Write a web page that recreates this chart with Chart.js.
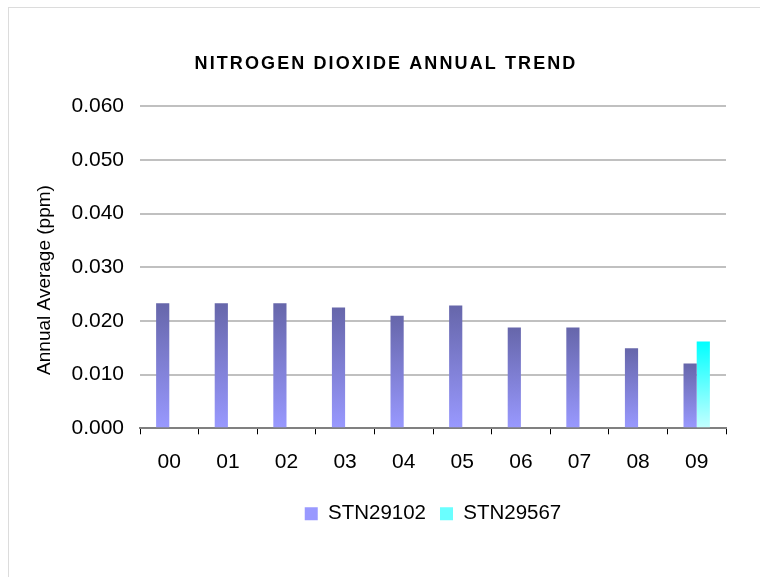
<!DOCTYPE html>
<html>
<head>
<meta charset="utf-8">
<script src="https://cdn.jsdelivr.net/npm/chart.js@4.4.0/dist/chart.umd.min.js"></script>
<style>
  body { margin: 0; background: #fff; }
  #frame { position: absolute; left: 8px; top: 7px; width: 760px; height: 580px; border: 1px solid #dcdcdc; box-sizing: border-box; }
  #wrap { position: absolute; left: 0; top: 0; width: 760px; height: 577px; }
</style>
</head>
<body>
<div id="frame"></div>
<div id="wrap"><canvas id="chart" width="760" height="577"></canvas></div>
<script>
var years = ['00', '01', '02', '03', '04', '05', '06', '07', '08', '09']
var stn29102 = [0.0233, 0.0233, 0.0233, 0.0225, 0.0210, 0.0229, 0.0188, 0.0188, 0.0149, 0.0121]
var stn29567 = [null, null, null, null, null, null, null, null, null, 0.0162]
var yTicks = [0, 0.01, 0.02, 0.03, 0.04, 0.05, 0.06]
var titleText = 'NITROGEN DIOXIDE ANNUAL TREND'
var yTitleText = 'Annual Average (ppm)'

// each bar gets its own top-to-bottom gradient
function barFill(c, top, bottom, flat) {
    var chart = c.chart
    var area = chart.chartArea
    if (!area || c.type !== 'data' || c.raw == null) return flat
    var y0 = chart.scales.y.getPixelForValue(c.raw)
    var g = chart.ctx.createLinearGradient(0, y0, 0, area.bottom)
    g.addColorStop(0, top)
    g.addColorStop(1, bottom)
    return g
}

var font = "'Liberation Sans', Arial, sans-serif"

// title and y title drawn by hand (letter spacing, off-centre placement)
var handTitles = {
    id: 'handTitles',
    afterDraw: function (chart) {
        var t = chart.titleBlock
        var ctx = chart.ctx
        ctx.save()
        ctx.font = 'bold 18px ' + font
        ctx.letterSpacing = '2.1px'
        ctx.fillStyle = '#000'
        ctx.textAlign = 'center'
        ctx.textBaseline = 'middle'
        ctx.fillText(titleText, 386, t.top + 10)
        ctx.restore()

        ctx.save()
        ctx.font = '19px ' + font
        ctx.fillStyle = '#000'
        ctx.textAlign = 'center'
        ctx.textBaseline = 'middle'
        ctx.translate(45, 280)
        ctx.rotate(-Math.PI / 2)
        ctx.fillText(yTitleText, 0, 0)
        ctx.restore()
    }
}

new Chart(document.getElementById('chart').getContext('2d'), {
    type: 'bar',
    data: {
        labels: years,
        datasets: [{
            label: 'STN29102',
            data: stn29102,
            backgroundColor: function (c) { return barFill(c, '#6666aa', '#9999ff', '#8585d8') },
            borderWidth: 0
        }, {
            label: 'STN29567',
            data: stn29567,
            backgroundColor: function (c) { return barFill(c, '#00ffff', '#c4ffff', '#6affff') },
            borderWidth: 0
        }]
    },
    options: {
        responsive: false,
        animation: false,
        layout: { padding: { left: 30, right: 34, top: 54, bottom: 43 } },
        datasets: { bar: { categoryPercentage: 0.45, barPercentage: 1 } },
        plugins: {
            title: {
                display: true,
                text: titleText,
                color: 'rgba(0,0,0,0)',
                font: { family: font, size: 17, weight: 'bold' },
                padding: { top: 0, bottom: 32 }
            },
            legend: {
                position: 'bottom',
                fullSize: false,
                labels: {
                    color: '#000',
                    font: { family: font, size: 20.5 },
                    boxWidth: 13,
                    boxHeight: 13,
                    padding: 14
                }
            },
            tooltip: { enabled: false }
        },
        scales: {
            x: {
                grid: { offset: true, drawOnChartArea: false, color: '#000', tickLength: 6, tickWidth: 1 },
                border: { color: '#808080', width: 2 },
                ticks: { color: '#000', font: { family: font, size: 21 }, padding: 15 }
            },
            y: {
                min: 0,
                max: 0.06,
                afterBuildTicks: function (axis) { axis.ticks = yTicks.map(function (v) { return { value: v } }) },
                grid: { color: '#c0c0c0', lineWidth: 2, drawTicks: false },
                border: { display: false },
                ticks: {
                    color: '#000',
                    font: { family: font, size: 21 },
                    padding: 16,
                    callback: function (v) { return v.toFixed(3) }
                },
                afterFit: function (axis) { axis.width = 110 }
            }
        }
    },
    plugins: [handTitles]
})
</script>
</body>
</html>
